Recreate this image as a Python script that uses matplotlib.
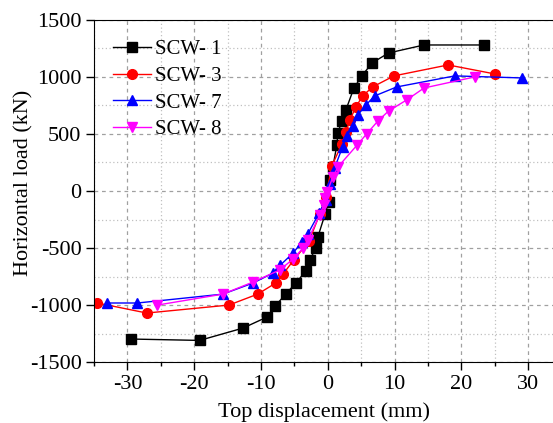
import matplotlib
matplotlib.use("Agg")
import matplotlib.pyplot as plt
from matplotlib.ticker import MultipleLocator

plt.rcParams['font.family'] = ['Liberation Serif', 'DejaVu Serif']
plt.rcParams['axes.unicode_minus'] = False

# SCW-1
x1 = [-29.4, -19.2, -12.7, -9.1, -7.9, -6.3, -4.8, -3.3, -2.7, -1.8, -1.5, -0.4, 0.1,
      0.3, 0.75, 1.35, 1.5, 2.1, 2.7, 3.9, 5.1, 6.6, 9.1, 14.4, 23.4]
y1 = [-1298, -1310, -1202, -1105, -1009, -904, -807, -702, -605, -500, -404, -200, -100,
      100, 210, 404, 509, 614, 710, 903, 1009, 1122, 1210, 1280, 1280]
# SCW-3
x3 = [-34.5, -27.1, -14.8, -10.5, -7.8, -6.7, -5.1, -2.8, -1.2, -0.3, 0.6, 2.1, 2.7,
      3.3, 4.2, 5.2, 6.7, 9.9, 18.0, 25.0]
y3 = [-982, -1070, -1000, -904, -807, -728, -605, -439, -200, -50, 220, 412, 518,
      623, 737, 833, 912, 1009, 1105, 1026]
# SCW-7
x7 = [-33.1, -28.5, -15.7, -11.2, -8.2, -7.1, -5.2, -3.9, -3.0, -1.3, -0.3, 0.3, 1.0,
      2.2, 2.8, 3.8, 4.5, 5.7, 7.0, 10.3, 19.0, 29.1]
y7 = [-982, -982, -904, -807, -719, -649, -544, -447, -377, -193, -80, 60, 200,
      386, 482, 570, 667, 754, 833, 912, 1009, 991]
# SCW-8
x8 = [-25.5, -15.7, -11.2, -7.2, -5.2, -3.7, -3.0, -1.2, -0.6, -0.45, -0.1, 0.75, 1.5,
      4.4, 5.8, 7.5, 9.1, 11.8, 14.4, 22.0]
y8 = [-1000, -904, -798, -693, -596, -500, -430, -210, -123, -61, -9, 123, 210,
      404, 500, 614, 702, 798, 903, 1000]

fig = plt.figure(figsize=(5.53, 4.23), dpi=100)
ax = fig.add_axes([0.170, 0.144, 0.830, 0.809])

ax.plot(x1, y1, color='black', marker='s', markersize=6.5, lw=1, label='SCW- 1')
ax.plot(x3, y3, color='red', marker='o', markersize=7, lw=1, label='SCW- 3')
ax.plot(x7, y7, color='blue', marker='^', markersize=7, lw=1, label='SCW- 7')
ax.plot(x8, y8, color='magenta', marker='v', markersize=7, lw=1, label='SCW- 8')

ax.set_xlim(-35, 33.7)
ax.set_ylim(-1500, 1500)
ax.xaxis.set_major_locator(MultipleLocator(10))
ax.xaxis.set_minor_locator(MultipleLocator(5))
ax.yaxis.set_major_locator(MultipleLocator(500))
ax.yaxis.set_minor_locator(MultipleLocator(250))
ax.grid(which='major', color='#a0a0a0', ls=(0, (3, 3)), lw=0.9)
ax.grid(which='minor', color='#c0c0c0', ls=(0, (1, 2)), lw=0.9)
ax.set_axisbelow(True)
ax.spines['right'].set_visible(False)
ax.tick_params(which='major', direction='out', length=6, width=1, labelsize=16, pad=3)
ax.tick_params(which='minor', direction='out', length=3, width=1)
ax.tick_params(axis='y', which='minor', length=0)

ax.set_xlabel('Top displacement (mm)', fontsize=16, labelpad=6)
ax.set_ylabel('Horizontal load (kN)', fontsize=16)
ax.yaxis.set_label_coords(-0.132, 0.523)

ax.legend(loc='upper left', frameon=False, fontsize=15, handlelength=1.8,
          handletextpad=0.2, labelspacing=0.34, borderaxespad=0.0,
          bbox_to_anchor=(0.024, 0.966))

fig.savefig('out.png', dpi=100)
